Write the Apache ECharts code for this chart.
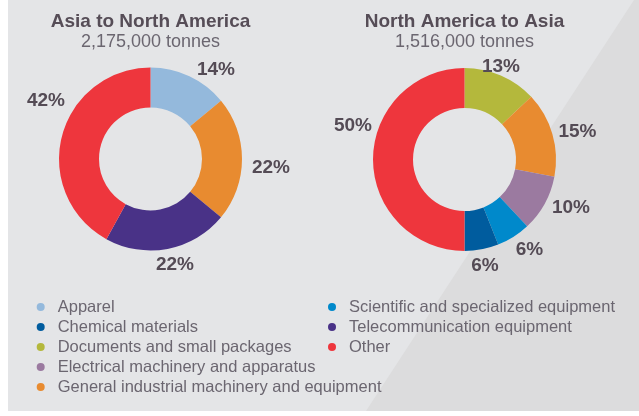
<!DOCTYPE html>
<html>
<head>
<meta charset="utf-8">
<script src="https://cdn.jsdelivr.net/npm/echarts@6/dist/echarts.min.js"></script>
<style>
html,body{margin:0;padding:0;background:#ffffff;}
#chart{width:639px;height:416px;}
</style>
</head>
<body>
<div id="chart"></div>
<script>
// ---- Data ----
const titles = ['Asia to North America', 'North America to Asia'];
const subtitles = ['2,175,000 tonnes', '1,516,000 tonnes'];

const leftNames = ['Apparel', 'General industrial machinery and equipment', 'Telecommunication equipment', 'Other'];
const leftValues = [14, 22, 22, 42];

const rightNames = ['Documents and small packages', 'General industrial machinery and equipment', 'Electrical machinery and apparatus', 'Scientific and specialized equipment', 'Chemical materials', 'Other'];
const rightValues = [13, 15, 10, 6, 6, 50];

const legendCol1 = ['Apparel', 'Chemical materials', 'Documents and small packages', 'Electrical machinery and apparatus', 'General industrial machinery and equipment'];
const legendCol2 = ['Scientific and specialized equipment', 'Telecommunication equipment', 'Other'];

// ---- Styles ----
const colorOf = {
  'Apparel': '#94b9dc',
  'Chemical materials': '#005c9e',
  'Documents and small packages': '#b4b83c',
  'Electrical machinery and apparatus': '#9b7aa0',
  'General industrial machinery and equipment': '#e88b30',
  'Scientific and specialized equipment': '#0089cb',
  'Telecommunication equipment': '#493287',
  'Other': '#ee363d'
};
const FONT = '"Liberation Sans", Arial, Helvetica, sans-serif';
const pieCenters = [[150.5, 159], [464.5, 159.5]];
// label anchor offsets relative to each pie centre (layout only)
const labelOffsets = [
  [[65.5, -89], [120.5, 8.5], [24.5, 105.5], [-104.5, -58]],
  [[36.5, -92.5], [113, -28], [106.5, 48], [65, 90], [20.5, 106], [-111.5, -34]]
];

function makePie(idx, names, values) {
  const c = pieCenters[idx];
  return {
    type: 'pie',
    center: c,
    radius: [51.5, 91.5],
    startAngle: 90,
    clockwise: true,
    silent: true,
    animation: false,
    label: {
      show: true,
      position: 'outside',
      formatter: '{c}%',
      overflow: 'none',
      fontFamily: FONT,
      fontWeight: 'bold',
      fontSize: 19,
      color: '#544b55'
    },
    labelLine: { show: false },
    labelLayout: function (p) {
      const o = labelOffsets[idx][p.dataIndex];
      return { x: c[0] + o[0], y: c[1] + o[1], align: 'center', verticalAlign: 'middle', width: 60 };
    },
    data: names.map((n, i) => ({ name: n, value: values[i], itemStyle: { color: colorOf[n] } }))
  };
}

function makeLegend(list, left) {
  return {
    orient: 'vertical',
    left: left,
    top: 298.5,
    padding: 0,
    itemWidth: 8,
    itemHeight: 8,
    itemGap: 3,
    icon: 'circle',
    selectedMode: false,
    data: list,
    textStyle: {
      fontFamily: FONT,
      fontSize: 16.5,
      lineHeight: 17,
      color: '#6b6670',
      padding: [0, 0, 0, 8]
    }
  };
}

const chart = echarts.init(document.getElementById('chart'), null, { renderer: 'canvas' });
chart.setOption({
  animation: false,
  graphic: {
    elements: [
      { type: 'rect', z: -10, silent: true, shape: { x: 8, y: 0, width: 631, height: 411 }, style: { fill: '#e4e5e7' } },
      { type: 'polygon', z: -9, silent: true, shape: { points: [[634, 0], [639, 0], [639, 411], [366, 411]] }, style: { fill: '#dcdcdd' } }
    ]
  },
  title: titles.map((t, i) => ({
    text: t,
    subtext: subtitles[i],
    left: pieCenters[i][0],
    top: 12,
    textAlign: 'center',
    padding: 0,
    itemGap: 0,
    textStyle: { fontFamily: FONT, fontWeight: 'bold', fontSize: 19, lineHeight: 20, color: '#564d57' },
    subtextStyle: { fontFamily: FONT, fontSize: 18, lineHeight: 20, color: '#6b6670' }
  })),
  legend: [makeLegend(legendCol1, 36.7), makeLegend(legendCol2, 328)],
  series: [makePie(0, leftNames, leftValues), makePie(1, rightNames, rightValues)]
});
</script>
</body>
</html>
